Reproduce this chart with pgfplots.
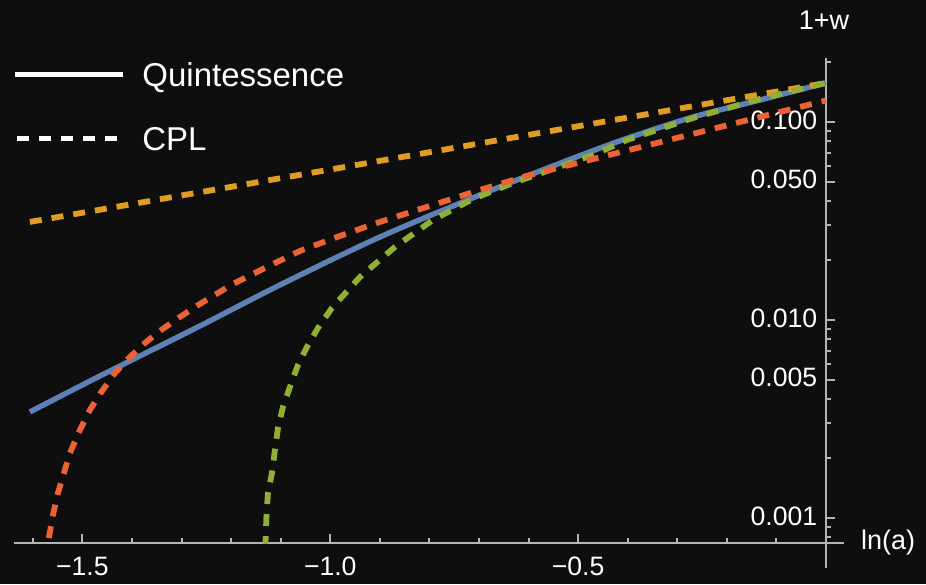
\documentclass[border=0pt]{standalone}
\usepackage{fontspec}
\setmainfont{Liberation Sans}
\usepackage{pgfplots}
\pgfplotsset{compat=1.18}
\definecolor{bg}{HTML}{0E0E0E}
\definecolor{axgray}{HTML}{B4B4B4}
\definecolor{mBlue}{HTML}{5E81B5}
\definecolor{mOrange}{HTML}{E19C24}
\definecolor{mGreen}{HTML}{8FB032}
\definecolor{mRed}{HTML}{EB6235}

\begin{document}
\begin{tikzpicture}
\fill[bg, use as bounding box] (-7pt,-20.5pt) rectangle (456pt,271.5pt);
\begin{axis}[
  at={(0,0)}, anchor=south west,
  scale only axis,
  width=406pt, height=242.7pt,
  xmin=-1.638, xmax=0,
  ymode=log, ymin=0.000747, ymax=0.2113,
  axis x line=bottom, axis y line=right,
  axis line style={draw=axgray, line width=1.2pt, -},
  x axis line style={shorten >=-9pt},
  y axis line style={shorten <=-12.5pt},
  xtick={-1.5,-1,-0.5},
  xticklabels={−1.5,−1.0,−0.5},
  minor xtick={-1.6,-1.4,-1.3,-1.2,-1.1,-0.9,-0.8,-0.7,-0.6,-0.4,-0.3,-0.2,-0.1},
  ytick={0.001,0.005,0.01,0.05,0.1},
  yticklabels={0.001,0.005,0.010,0.050,0.100},
  minor ytick={0.0008,0.0009,0.002,0.003,0.004,0.006,0.007,0.008,0.009,0.02,0.03,0.04,0.06,0.07,0.08,0.09,0.2},
  xtick align=inside, ytick align=outside,
  major tick length=4.5pt, minor tick length=2.3pt,
  tick style={draw=axgray, line width=1pt},
  xticklabel style={font=\fontsize{13.3}{15}\selectfont, text=white, yshift=-3.6pt},
  yticklabel style={font=\fontsize{13.3}{15}\selectfont, text=white, anchor=east, xshift=-5.4pt, yshift=1pt},
]
\addplot[mBlue, line width=2.7pt, smooth] coordinates {
  (-1.606,0.00343) (-1.4646,0.00521) (-1.2629,0.00932) (-1.1015,0.01502)
  (-0.8997,0.02625) (-0.698,0.04278) (-0.5971,0.0540) (-0.4963,0.0676)
  (-0.4015,0.0826) (-0.2683,0.1059) (-0.1331,0.1291) (0,0.1574)
};
\addplot[mOrange, line width=2.9pt, dash pattern=on 6pt off 5pt] coordinates {
  (-1.606,0.03126) (-1.2023,0.0469) (-0.7988,0.0704) (-0.3954,0.1057) (0,0.1574)
};
\addplot[mGreen, line width=2.9pt, dash pattern=on 6pt off 5pt] coordinates {
  (-1.1337,0.000546) (-1.1307,0.000747) (-1.1287,0.001036) (-1.1257,0.001337)
  (-1.1176,0.001688) (-1.1116,0.002205) (-1.1055,0.002848) (-1.0954,0.003636)
  (-1.0813,0.004588) (-1.0652,0.005926) (-1.047,0.007304) (-1.0248,0.009113)
  (-0.9966,0.01150) (-0.9401,0.01649) (-0.8695,0.02337) (-0.7928,0.03200)
  (-0.7121,0.04085) (-0.6314,0.04918) (-0.5507,0.05789) (-0.47,0.06811)
  (-0.4015,0.08110) (-0.2683,0.1047) (-0.1331,0.1307) (0,0.1574)
};
\addplot[mRed, line width=2.9pt, dash pattern=on 6pt off 5pt] coordinates {
  (-1.5736,0.000614) (-1.5695,0.000747) (-1.5594,0.001036) (-1.5493,0.001337)
  (-1.5251,0.002130) (-1.5049,0.002782) (-1.4848,0.003512) (-1.4646,0.004229)
  (-1.4343,0.005400) (-1.4041,0.006502) (-1.3738,0.007652) (-1.3435,0.008799)
  (-1.3032,0.010356) (-1.2629,0.01204) (-1.1963,0.01520) (-1.1277,0.01852)
  (-1.0611,0.02231) (-0.9804,0.02656) (-0.8997,0.03126) (-0.7989,0.03765)
  (-0.698,0.04535) (-0.5971,0.05398) (-0.4963,0.06248) (-0.3954,0.07236)
  (-0.2683,0.08703) (-0.1331,0.1059) (0,0.1284)
};
\end{axis}
% axis labels
\node[text=white, font=\fontsize{13.5}{16}\selectfont, anchor=base] at (405pt,256.5pt) {1+w};
\node[text=white, font=\fontsize{13.5}{16}\selectfont, anchor=west] at (420pt,0pt) {ln(a)};
% legend
\draw[white, line width=2.5pt] (0.5pt,234pt) -- (54.5pt,234pt);
\node[text=white, font=\fontsize{16.5}{19}\selectfont, anchor=base west, inner sep=0pt] at (64pt,228.1pt) {Quintessence};
\draw[white, line width=2.5pt, dash pattern=on 6pt off 5pt] (1.5pt,202.25pt) -- (51.5pt,202.25pt);
\node[text=white, font=\fontsize{16.5}{19}\selectfont, anchor=base west, inner sep=0pt] at (64pt,196.3pt) {CPL};
\end{tikzpicture}
\end{document}
